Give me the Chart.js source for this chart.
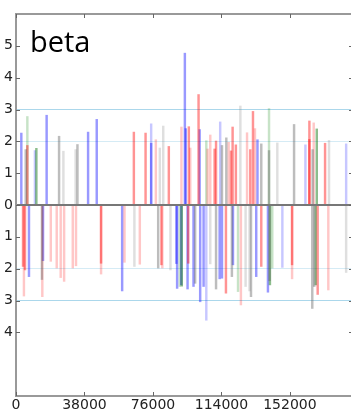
<!DOCTYPE html>
<html>
<head>
<meta charset="utf-8">
<script src="https://cdn.jsdelivr.net/npm/chart.js@4.4.1/dist/chart.umd.min.js"></script>
<style>
html,body{margin:0;padding:0;overflow:hidden;background:#fff;}
#wrap{width:354px;height:410px;}
</style>
</head>
<body>
<div id="wrap"><canvas id="beta_chart" width="354" height="410"></canvas></div>
<script>
// [position, beta]
var redBars = [
    [6300,1.87],[65400,2.29],[71900,2.26],[84800,1.84],[95900,2.46],[101300,3.47],
    [110200,1.76],[111000,2.01],[119300,1.70],[120200,2.45],[122000,1.89],[130000,1.74],
    [131500,2.94],[162800,2.64],[162800,2.06],[171500,1.94],
    [3900,-1.93],[5000,-2.04],[47200,-1.83],[80700,-1.88],[95600,-1.83],[116500,-2.77],
    [136100,-1.93],[153200,-1.88],[167400,-2.81]
];
var paleRedBars = [
    [77600,2.05],[91800,2.45],[96700,1.79],[106300,1.76],[107800,2.20],[118000,1.97],
    [128200,2.27],[132600,2.40],[165200,2.58],
    [4400,-2.86],[14600,-2.88],[19300,-1.77],[22600,-1.98],[24800,-2.28],[26700,-2.40],
    [31500,-1.98],[33300,-1.91],[47200,-2.17],[60200,-1.80],[68700,-1.86],[81200,-1.98],
    [124800,-3.14],[153200,-2.32],[173300,-2.67]
];
var blueBars = [
    [2950,2.26],[17000,2.82],[40000,2.29],[44800,2.69],[75000,1.94],[93700,4.77],
    [94200,2.40],[101900,2.37],[134000,2.05],
    [7200,-2.25],[15000,-1.75],[58900,-2.70],[89000,-1.84],[89400,-2.62],[91700,-2.51],
    [95200,-2.64],[98500,-2.56],[102200,-3.04],[104100,-2.56],[113000,-2.32],[114300,-2.30],
    [120400,-1.88],[133300,-2.25],[139800,-2.74]
];
var paleBlueBars = [
    [10500,1.71],[75000,2.55],[113300,2.61],[160600,1.89],[183200,1.92],
    [105600,-3.62],[147800,-1.96]
];
var grayBars = [
    [5400,1.74],[23900,2.16],[34100,1.90],[114300,1.87],[116700,2.11],[136100,1.92],
    [140400,1.71],[154300,2.53],[164600,1.74],
    [14400,-2.34],[78900,-1.98],[99400,-2.46],[111000,-2.64],[119800,-2.25],[130400,-2.88],
    [140700,-2.38],[164400,-3.25],[165500,-2.56]
];
var paleGrayBars = [
    [26300,1.69],[33100,1.74],[79800,1.79],[81700,2.48],[124500,3.11],[145000,1.95],
    [173700,2.03],
    [65700,-1.93],[85700,-2.04],[107800,-1.85],[127400,-2.56],[129600,-2.70],[183200,-2.12]
];
var greenBars = [
    [11300,1.78],[166900,2.39],
    [92000,-2.55],[140900,-2.51],[166300,-2.51]
];
var paleGreenBars = [
    [6300,2.78],[105600,2.02],[140400,3.03],
    [90900,-2.56],[123200,-2.72],[142200,-1.98]
];
var xTicks = [0, 38000, 76000, 114000, 152000];
var yTicks = [-4, -3, -2, -1, 0, 1, 2, 3, 4, 5];
var xMax = 187000;

function pts(list){
    let out = new Array();
    for(let i=0; i<list.length; i++){
        out.push({x:list[i][0], y:list[i][1]});
    }
    return out;
}
function series(list, color){
    return {data:pts(list), backgroundColor:color, borderWidth:0, barThickness:1.8, grouped:false};
}

var frame = {
    id:'frame',
    afterDatasetsDraw:function(chart){
        let c = chart.ctx, a = chart.chartArea, xs = chart.scales.x, ys = chart.scales.y;
        c.save();
        let y0 = ys.getPixelForValue(0);
        c.strokeStyle = '#777';
        c.lineWidth = 2;
        c.beginPath(); c.moveTo(a.left, y0); c.lineTo(a.right, y0); c.stroke();
        c.strokeStyle = '#999';
        c.strokeRect(a.left, a.top, a.right - a.left, a.bottom - a.top);
        // little inward ticks, matplotlib style
        c.strokeStyle = '#666';
        c.lineWidth = 1;
        c.beginPath();
        for(let i=0; i<xTicks.length; i++){
            let px = Math.round(xs.getPixelForValue(xTicks[i])) + 0.5;
            c.moveTo(px, a.bottom); c.lineTo(px, a.bottom - 4);
            c.moveTo(px, a.top); c.lineTo(px, a.top + 4);
        }
        for(let i=0; i<yTicks.length; i++){
            let py = Math.round(ys.getPixelForValue(yTicks[i])) + 0.5;
            c.moveTo(a.left, py); c.lineTo(a.left + 4, py);
            c.moveTo(a.right, py); c.lineTo(a.right - 4, py);
        }
        c.stroke();
        c.fillStyle = '#000';
        c.font = '29px "Open Sans"';
        c.textBaseline = 'alphabetic';
        c.fillText('beta', 30, 52);
        c.restore();
    }
};

var betaChart = new Chart(document.getElementById('beta_chart'), {
    type:'bar',
    data:{
        datasets:[
            series(paleGrayBars, 'rgba(128,128,128,0.25)'),
            series(grayBars, 'rgba(90,90,90,0.4)'),
            series(paleRedBars, 'rgba(255,0,0,0.22)'),
            series(redBars, 'rgba(255,0,0,0.42)'),
            series(paleGreenBars, 'rgba(0,128,0,0.22)'),
            series(greenBars, 'rgba(0,110,0,0.45)'),
            series(paleBlueBars, 'rgba(0,0,255,0.22)'),
            series(blueBars, 'rgba(0,0,255,0.4)')
        ]
    },
    options:{
        responsive:false,
        animation:false,
        layout:{padding:{top:14, right:1, left:0, bottom:0}},
        plugins:{legend:{display:false}, tooltip:{enabled:false}},
        scales:{
            x:{
                type:'linear', min:0, max:xMax, offset:false,
                afterBuildTicks:function(s){ s.ticks = xTicks.map(function(v){ return {value:v}; }); },
                afterFit:function(s){ s.height = 14; },
                grid:{display:false, drawTicks:false},
                border:{display:false},
                ticks:{
                    padding:1, maxRotation:0, autoSkip:false, color:'#222',
                    font:{family:'DejaVu Sans', size:14},
                    callback:function(v){ return String(v); }
                }
            },
            y:{
                min:-6, max:6,
                afterBuildTicks:function(s){ s.ticks = yTicks.map(function(v){ return {value:v}; }); },
                afterFit:function(s){ s.width = 16; },
                grid:{
                    drawTicks:false,
                    color:function(ctx){
                        let v = Math.abs(ctx.tick.value);
                        if(v == 3) return 'rgba(150,205,230,0.8)';
                        if(v == 2) return 'rgba(150,205,230,0.4)';
                        return 'rgba(0,0,0,0)';
                    }
                },
                border:{display:false},
                ticks:{
                    padding:3, color:'#222',
                    font:{family:'DejaVu Sans', size:14},
                    callback:function(v){ return String(Math.abs(v)); }
                }
            }
        }
    },
    plugins:[frame]
});
</script>
</body>
</html>
